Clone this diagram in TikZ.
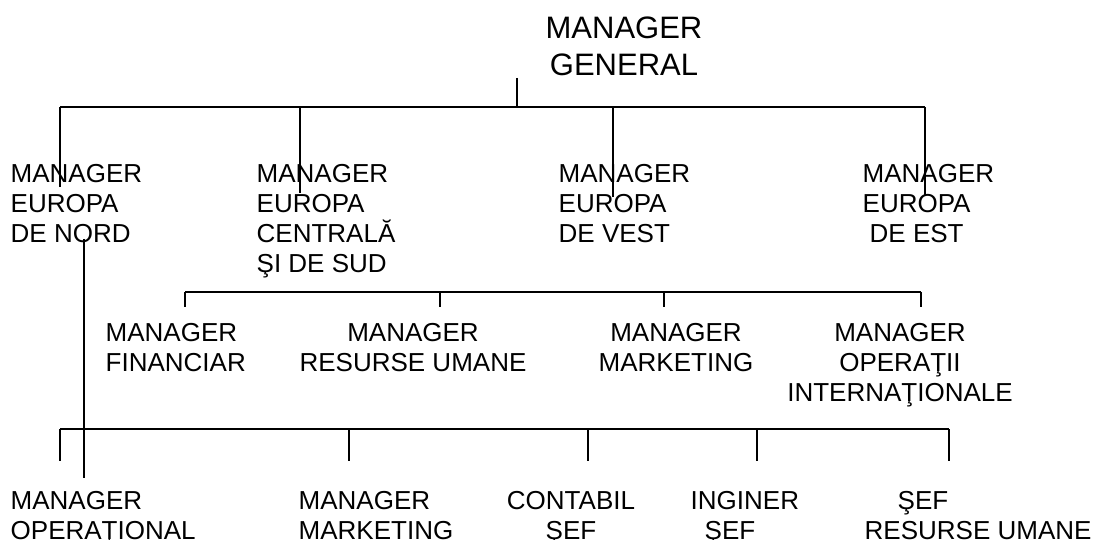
\documentclass[tikz,border=0pt]{standalone}
\usepackage{fontspec}
\setmainfont{Liberation Sans}
\begin{document}
\begin{tikzpicture}[x=1pt, y=-1pt, line width=1.4pt,
    post/.style={anchor=north west, inner sep=0pt, align=left, font=\fontsize{26}{30}\selectfont},
    postc/.style={post, anchor=north, align=center},
    bus/.style={line width=1.8pt}]
    \useasboundingbox (0,0) rectangle (1101,540);

    % Top
    \node[postc, font=\fontsize{31}{37}\selectfont] (gen) at (624,16) {MANAGER\\GENERAL};

    % Regions
    \node[post] (eunord) at (10,164) {MANAGER\\EUROPA\\DE NORD};
    \node[post] (eucent) at (256,164) {MANAGER\\EUROPA\\CENTRALĂ\\ŞI DE SUD};
    \node[post] (euvest) at (558,164) {MANAGER\\EUROPA\\DE VEST};
    \node[post] (euest) at (862,164) {MANAGER\\EUROPA\\\hspace*{7pt}DE EST};

    % Functions
    \node[post] (fin) at (105,323) {MANAGER\\FINANCIAR};
    \node[postc] (rum) at (413,323) {MANAGER\\RESURSE UMANE};
    \node[postc] (mkt) at (676,323) {MANAGER\\MARKETING};
    \node[postc] (opi) at (900,323) {MANAGER\\OPERAŢII\\INTERNAŢIONALE};

    % Local staff
    \node[post] (oper) at (10,491) {MANAGER\\OPERAŢIONAL};
    \node[post] (mktl) at (298,491) {MANAGER\\MARKETING};
    \node[postc] (cont) at (571,491) {CONTABIL\\ŞEF};
    \node[post] (ing) at (690,491) {INGINER\\\hspace*{14pt}ŞEF};
    \node[post] (sefru) at (864,491) {\hspace*{33pt}ŞEF\\RESURSE UMANE};

    % Bus lines
    \coordinate (gtop) at (517,78);
    \coordinate (busa) at (60,107);
    \coordinate (busb) at (185,292);
    \coordinate (busc) at (60,429);
    \coordinate (ntop) at (84,239);
    \coordinate (nbot) at (84,478);

    \draw (gtop) -- (gtop |- busa);
    \draw[bus] (busa) -- (925,107);
    \foreach \x/\y in {60/187, 300/193, 613/197, 925/196}
        \draw (\x,107) -- (\x,\y);

    \draw[bus] (busb) -- (921,292);
    \foreach \x in {185, 440, 664, 921}
        \draw (\x,292) -- (\x,307);

    \draw[bus] (busc) -- (949,429);
    \foreach \x in {60, 349, 588, 757, 949}
        \draw (\x,429) -- (\x,461);

    % Link from Europa de Nord
    \draw (ntop) -- (nbot);
\end{tikzpicture}
\end{document}
